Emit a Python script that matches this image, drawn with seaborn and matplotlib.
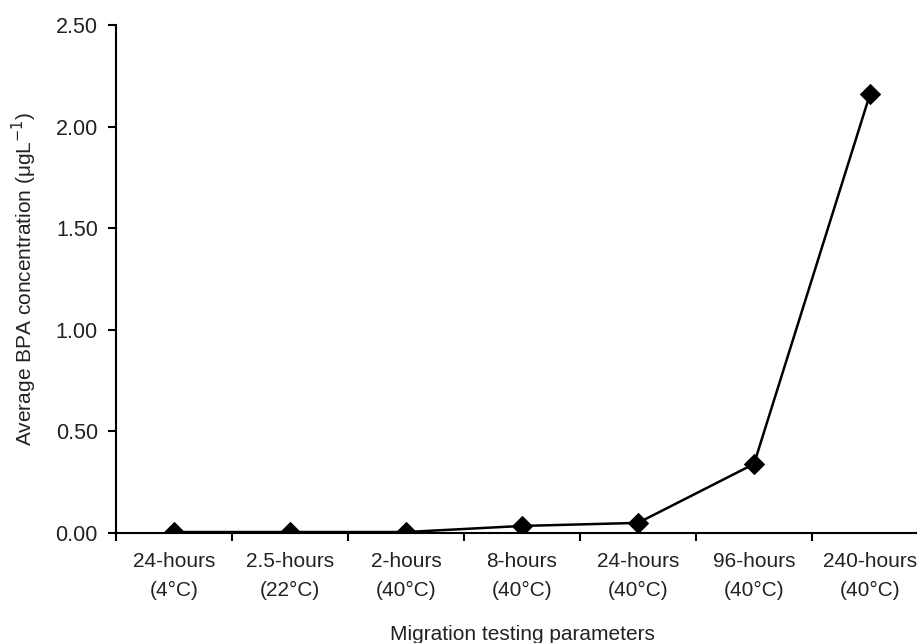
import matplotlib
matplotlib.use("Agg")
import matplotlib.pyplot as plt
import seaborn as sns
import pandas as pd
import numpy as np

categories = ["24-hours\n(4°C)", "2.5-hours\n(22°C)", "2-hours\n(40°C)", "8-hours\n(40°C)",
              "24-hours\n(40°C)", "96-hours\n(40°C)", "240-hours\n(40°C)"]
values = [0.005, 0.005, 0.005, 0.035, 0.05, 0.34, 2.16]
yticks = [0.0, 0.5, 1.0, 1.5, 2.0, 2.5]

sns.set_theme(style="white")
plt.rcParams['font.family'] = ['Liberation Sans', 'DejaVu Sans']

df = pd.DataFrame({"pos": np.arange(len(categories)), "val": values})

fig = plt.figure(figsize=(9.17, 6.43), dpi=100)
ax = fig.add_axes([0.1265, 0.171, 0.8855, 0.790])
sns.lineplot(data=df, x="pos", y="val", ax=ax, color="black", linewidth=1.8,
             marker="D", markersize=10.5, markeredgecolor="black", markerfacecolor="black")

ax.set_xlim(-0.5, len(categories) - 0.5)
ax.set_ylim(0, 2.5)
ax.set_yticks(yticks)
ax.set_yticklabels([f"{t:.2f}" for t in yticks], fontsize=15.5, color="#222222")
ax.set_xticks(np.arange(len(categories)))
ax.set_xticklabels(categories, fontsize=15, color="#222222", linespacing=1.6)
ax.set_xticks(np.arange(-0.5, len(categories)), minor=True)
ax.tick_params(axis="x", which="major", length=0, pad=14)
ax.tick_params(axis="x", which="minor", length=6, width=1.5, direction="out", color="black", bottom=True)
ax.tick_params(axis="y", which="major", length=6, width=1.5, direction="out", color="black", left=True, pad=7)

for s in ["top", "right"]:
    ax.spines[s].set_visible(False)
for s in ["left", "bottom"]:
    ax.spines[s].set_color("black")
    ax.spines[s].set_linewidth(1.5)

ax.set_xlabel("Migration testing parameters", fontsize=15, color="#222222", labelpad=18)
ax.set_ylabel("Average BPA concentration (μgL$^{-1}$)", fontsize=15, color="#222222", labelpad=12)

fig.savefig("out.png", dpi=100)
